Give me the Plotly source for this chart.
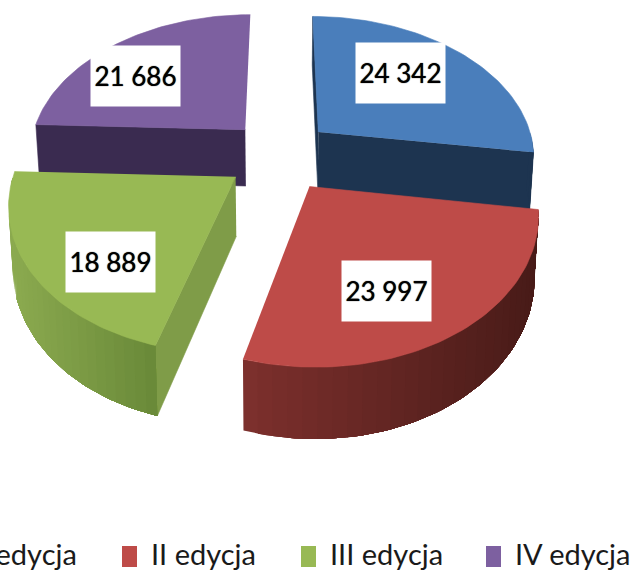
import numpy as np
import plotly.graph_objects as go

# data
categories = ['I edycja', 'II edycja', 'III edycja', 'IV edycja']
values = [24342, 23997, 18889, 21686]
value_labels = ['24 342', '23 997', '18 889', '21 686']

top_colors = ['#4a7ebb', '#be4b48', '#98b954', '#7d60a0']
wall_left = ['#1d3450', '#7c302d', '#8cab50', '#3a2b50']
wall_right = ['#1d3450', '#481b18', '#688838', '#3a2b50']
radial_colors = ['#1d3450', '#5a2220', '#7f9c48', '#3a2b50']
radial_sides = [(0, -1), (), (0,), (0,)]  # which straight walls show
nudge_x = [0, 1, 5, 6]  # left hand slices sit a bit closer in the picture

# pie geometry, in pixels of the page
CX, CY = 277, 155
AX, AY = 224, 145
K = 0.164       # perspective
DEPTH = 58
SHRINK = 0.985  # bottom rim is a bit narrower
EXPLODE = 0.25
RADIUS = 0.97


def hex_rgb(c):
    return np.array([int(c[i:i + 2], 16) for i in (1, 3, 5)])


def project(X, Y, bottom=False):
    d = 1 + K * Y
    x = AX * X / d
    y = -AY * Y / d
    if bottom:
        return CX + x * SHRINK, CY + y + DEPTH / d
    return CX + x, CY + y


def poly(fig, xs, ys, color, lw=0.6):
    fig.add_trace(go.Scatter(x=list(xs), y=list(ys), mode='lines', fill='toself',
                             fillcolor=color, line=dict(color=color, width=lw),
                             hoverinfo='skip', showlegend=False))


fig = go.Figure()

total = sum(values)
ends = np.cumsum(values) / total * 2 * np.pi
starts = ends - np.array(values) / total * 2 * np.pi

# back slices first, so the front ones sit over them
for i in [3, 0, 2, 1]:
    a0, a1 = starts[i], ends[i]
    mid = (a0 + a1) / 2
    ox, oy = EXPLODE * np.sin(mid), EXPLODE * np.cos(mid)
    th = np.linspace(a0, a1, 61)
    X = ox + RADIUS * np.sin(th)
    Y = oy + RADIUS * np.cos(th)
    nx = nudge_x[i]

    # straight walls from the centre to the rim
    for j in radial_sides[i]:
        tx, ty = project(np.array([ox, X[j]]), np.array([oy, Y[j]]))
        bx, by = project(np.array([ox, X[j]]), np.array([oy, Y[j]]), bottom=True)
        poly(fig, [tx[0] + nx, tx[1] + nx, bx[1] + nx, bx[0] + nx],
             [ty[0], ty[1], by[1], by[0]], radial_colors[i])

    # curved wall, only the part that faces us, shaded left to right;
    # each strip runs to the far end so no seams show
    tx, ty = project(X, Y)
    bx, by = project(X, Y, bottom=True)
    tx, bx = tx + nx, bx + nx
    front = np.where(np.cos(th) <= 0)[0]
    if len(front) > 1:
        idx = sorted(front, key=lambda n: tx[n])
        lo, hi = tx[idx[0]], tx[idx[-1]]
        for n in range(0, len(idx) - 1, 2):
            part = idx[n:]
            t = (tx[idx[n]] - lo) / (hi - lo)
            rgb = hex_rgb(wall_left[i]) * (1 - t) + hex_rgb(wall_right[i]) * t
            col = 'rgb(%d,%d,%d)' % tuple(rgb)
            poly(fig, [*tx[part], *bx[part][::-1]], [*ty[part], *by[part][::-1]], col, lw=0)

    # top face
    cx0, cy0 = project(np.array([ox]), np.array([oy]))
    poly(fig, [cx0[0] + nx, *tx], [cy0[0], *ty], top_colors[i])

# value boxes
label_pos = [(400, 73), (386, 291), (110, 262), (135, 76)]
for txt, (x, y) in zip(value_labels, label_pos):
    fig.add_annotation(x=x, y=y, text=txt, showarrow=False, width=87, height=58,
                       bgcolor='white', align='center', valign='middle',
                       font=dict(family='Lato', size=26, color='black', shadow='0 0 1px #000'))

# legend drawn by hand, the first entry runs off the left edge as in the picture
legend_x = [-53, 122, 301, 486]
for name, col, x in zip(categories, top_colors, legend_x):
    fig.add_shape(type='rect', x0=x, x1=x + 15, y0=546, y1=567, fillcolor=col, line_width=0)
    if x < 0:
        fig.add_annotation(x=79, y=553, text=name, showarrow=False, xanchor='right',
                           font=dict(family='Lato', size=29, color='#1a1a1a'))
    else:
        fig.add_annotation(x=x + 27, y=553, text=name, showarrow=False, xanchor='left',
                           font=dict(family='Lato', size=29, color='#1a1a1a'))

fig.update_xaxes(range=[0, 631], visible=False)
fig.update_yaxes(range=[575, 0], visible=False)
fig.update_layout(width=631, height=575, margin=dict(l=0, r=0, t=0, b=0),
                  paper_bgcolor='white', plot_bgcolor='white', showlegend=False)
fig.write_html("out.html", config={'displayModeBar': False},
               post_script="document.body.style.margin='0';")
